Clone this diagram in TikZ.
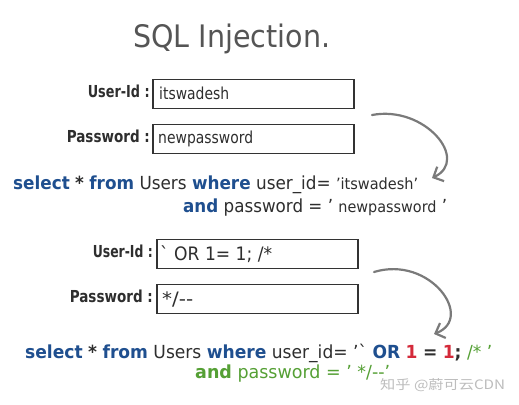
\documentclass[tikz,border=0pt]{standalone}
\usepackage{fontspec}
\usepackage{graphicx}
\usetikzlibrary{arrows.meta}
\newfontfamily\sqlf{DejaVu Sans}[FakeStretch=0.9]
\newfontfamily\cjkf{Noto Sans CJK SC}
\definecolor{titlegray}{HTML}{555555}
\definecolor{labgray}{HTML}{2E2E2E}
\definecolor{boxgray}{HTML}{333333}
\definecolor{kw}{HTML}{1F4F8F}
\definecolor{qred}{HTML}{D42A3A}
\definecolor{qgreen}{HTML}{55A035}
\definecolor{arrgray}{HTML}{7A7A7A}
\definecolor{wmgray}{HTML}{BDBDBD}
\newlength\fitlen
\newcommand\fitx[2]{\settowidth{\fitlen}{#2}\pgfmathsetmacro\fitr{#1/\fitlen}\scalebox{\fitr}[1]{#2}}
\newcommand\kwd[1]{{\color{kw}\bfseries #1}}
\tikzset{
  ttl/.style={font=\sqlf\fontsize{31}{34}\selectfont, text=titlegray, inner sep=0, anchor=base west},
  lab/.style={font=\sqlf\bfseries\fontsize{16.5}{18}\selectfont, text=labgray, inner sep=0, anchor=base east},
  fld/.style={draw=boxgray, line width=1.8pt, minimum width=201pt, minimum height=29pt, inner sep=0},
  ftxt/.style={font=\sqlf\fontsize{16.5}{18}\selectfont, text=labgray, inner sep=0, anchor=base west},
  qry/.style={font=\sqlf\fontsize{18}{20}\selectfont, text=labgray, inner sep=0, anchor=base west},
  arr/.style={draw=arrgray, line width=2.2pt, line cap=round, -{Straight Barb[length=8pt,width=16pt]}},
  wm/.style={font=\cjkf\fontsize{13}{15}\selectfont, text=wmgray, inner sep=0, anchor=base west}
}
\begin{document}
\begin{tikzpicture}[x=1pt,y=-1pt]
\fill[white] (0,0) rectangle (519,404);
\useasboundingbox (0,0) rectangle (519,404);
% title
\node[ttl] (title) at (133,48) {\fitx{197}{SQL Injection.}};
% first form
\node[fld] (b1) at (253.5,94) {};
\node[fld] (b2) at (253.5,139) {};
\node[lab] (l1) at (150,97) {\fitx{62}{User-Id :}};
\node[lab] (l2) at (150,142) {\fitx{83}{Password :}};
\node[ftxt] (t1) at (159,99) {\fitx{70}{itswadesh}};
\node[ftxt] (t2) at (158,143) {\fitx{95}{newpassword}};
% first query
\node[qry] (q1a) at (13,189) {\fitx{405}{\kwd{select} {\bfseries *} \kwd{from} Users \kwd{where} user\_id= {\fontsize{15.5}{17}\selectfont ’itswadesh’}}};
\node[qry] (q1b) at (183,212) {\fitx{264}{\kwd{and} password = ’ {\fontsize{15.5}{17}\selectfont newpassword} ’}};
% second form
\node[fld] (b3) at (257.5,254) {};
\node[fld] (b4) at (257.5,299) {};
\node[lab] (l3) at (153,257) {\fitx{60}{User-Id :}};
\node[lab] (l4) at (153,302) {\fitx{83}{Password :}};
\node[ftxt,font=\sqlf\fontsize{18.5}{20}\selectfont] (t3) at (160,260) {\fitx{112}{` OR 1= 1; /*}};
\node[ftxt,font=\sqlf\fontsize{18.5}{20}\selectfont] (t4) at (162,305) {\fitx{31}{*/--}};
% second query
\node[qry] (q2a) at (25,358) {\fitx{467}{\kwd{select} {\bfseries *} \kwd{from} Users \kwd{where} user\_id= ’` \kwd{OR} {\bfseries\color{qred}1} {\bfseries =} {\bfseries\color{qred}1}{\bfseries ;} {\color{qgreen}/* ’}}};
\node[qry,text=qgreen] (q2b) at (195,378) {\fitx{195}{{\bfseries and} password = ’ */--’}};
% arrows
\coordinate (a1s) at (372,115);
\coordinate (a1e) at (432,178);
\draw[arr] (a1s) .. controls (425,105) and (470,160) .. (a1e);
\coordinate (a2s) at (374,272);
\coordinate (a2e) at (434,334);
\draw[arr] (a2s) .. controls (430,255) and (475,318) .. (a2e);
% watermark
\node[wm] (wmk) at (380,389) {\fitx{125}{知乎 @蔚可云CDN}};
\end{tikzpicture}
\end{document}
